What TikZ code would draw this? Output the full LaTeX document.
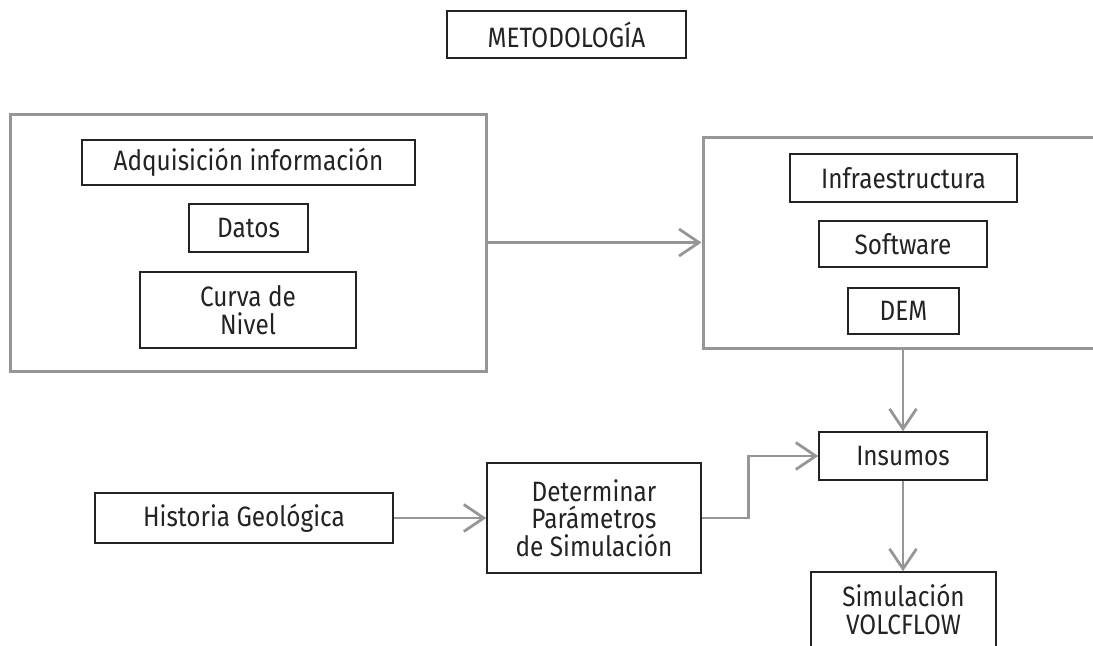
\documentclass[tikz,border=0pt]{standalone}
\usepackage{fontspec}
\setmainfont{Fira Sans}[FakeStretch=0.87]
\usetikzlibrary{arrows.meta}
\definecolor{linegray}{RGB}{150,150,150}
\definecolor{textdark}{RGB}{35,35,35}

\begin{document}
\begin{tikzpicture}[x=0.5pt,y=-0.5pt,
  box/.style={draw=textdark,line width=0.7pt,text=textdark,align=center,inner sep=0pt,font=\fontsize{14}{13.75}\selectfont},
  group/.style={draw=linegray,line width=1.5pt,inner sep=0pt},
  flow/.style={color=linegray,line width=1.4pt,-{Straight Barb[length=10pt,width=13.5pt]}}]
  \useasboundingbox (0,0) rectangle (1093,645);
  \clip (0,0) rectangle (1093,645);
  \node[box,minimum width=119.5pt,minimum height=23.5pt] (metodo) at (566.5,34.5) {METODOLOGÍA};
  % grupo izquierdo
  \node[group,minimum width=238pt,minimum height=128.5pt] (grpA) at (248,242.5) {};
  \node[box,minimum width=166.5pt,minimum height=22.5pt] (adq) at (248.5,162.5) {Adquisición información};
  \node[box,minimum width=59.5pt,minimum height=24pt] (datos) at (248.5,228) {Datos};
  \node[box,minimum width=108pt,minimum height=38pt] (curva) at (248,310) {Curva de\\Nivel};
  % grupo derecho
  \node[group,minimum width=204pt,minimum height=105.5pt] (grpB) at (907,242.5) {};
  \node[box,minimum width=113.5pt,minimum height=24pt] (infra) at (903.5,178) {Infraestructura};
  \node[box,minimum width=84pt,minimum height=23pt] (soft) at (903,244) {Software};
  \node[box,minimum width=55.5pt,minimum height=23pt] (dem) at (903.5,311) {DEM};
  % parte inferior
  \node[box,minimum width=84pt,minimum height=24pt] (insumos) at (903,456) {Insumos};
  \node[box,minimum width=149pt,minimum height=25pt] (hist) at (244,518) {Historia Geológica};
  \node[box,minimum width=107pt,minimum height=55pt] (param) at (594,518) {Determinar\\Parámetros\\de Simulación};
  \node[box,minimum width=92.5pt,minimum height=37.5pt] (sim) at (903.5,609.5) {Simulación\\VOLCFLOW};
  \path[flow]
  (grpA.east) edge (grpA.east -| grpB.west)
  (insumos.north |- grpB.south) edge (insumos.north)
  (hist.east) edge (hist.east -| param.west)
  (insumos.south) edge (insumos.south |- sim.north)
;
  \draw[flow] (param.east) -- ++(47,0) |- (insumos.west);
\end{tikzpicture}
\end{document}
